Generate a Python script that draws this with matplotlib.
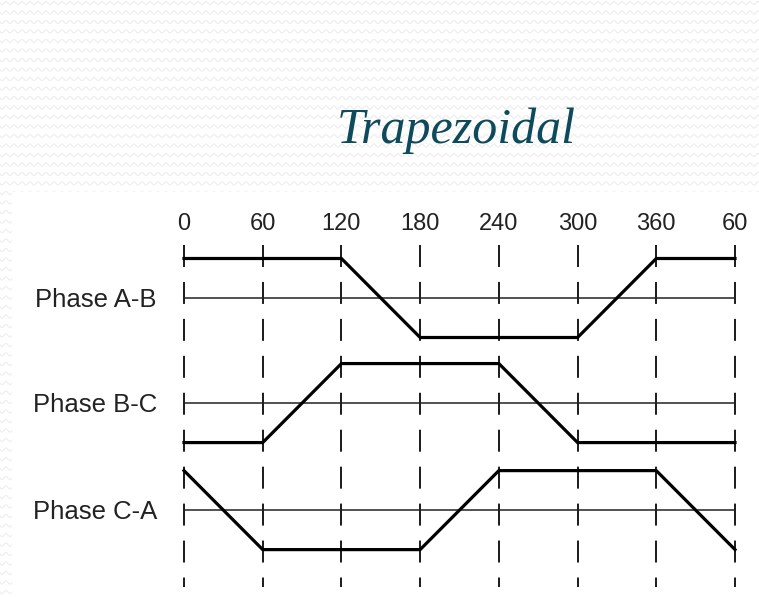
import matplotlib.pyplot as plt
import numpy as np

# Electrical angle (degrees) at each breakpoint; the last "60" is 420 deg
angles = [0, 60, 120, 180, 240, 300, 360, 420]
tick_labels = ['0', '60', '120', '180', '240', '300', '360', '60']

# Normalised line-to-line levels (+1 high, 0 zero, -1 low)
phase_ab = [1, 1, 1, -1, -1, -1, 1, 1]
phase_bc = [-1, -1, 1, 1, 1, -1, -1, -1]
phase_ca = [1, -1, -1, -1, 1, 1, 1, -1]

phase_names = ['Phase A-B', 'Phase B-C', 'Phase C-A']
phase_data = [phase_ab, phase_bc, phase_ca]
row_offsets = [0, -2.66, -5.37]

W, H = 759, 597
fig = plt.figure(figsize=(W / 100, H / 100), dpi=100)
fig.patch.set_facecolor('white')

# background: faint wavy pattern, white panel behind the chart
bg = fig.add_axes([0, 0, 1, 1], zorder=0)
bg.set_xlim(0, W)
bg.set_ylim(H, 0)
bg.axis('off')
xs = np.linspace(0, W, 800)
for y0 in np.arange(3, H, 9.5):
    bg.plot(xs, y0 + 1.6 * np.sin(xs * 2 * np.pi / 8), color='#efefef', lw=0.9)
bg.add_patch(plt.Rectangle((12, 192), W - 12, H - 192, color='white', zorder=3))

# title
fig.text(337 / W, 1 - 143 / H, 'Trapezoidal', fontsize=36, style='italic',
         family='Liberation Serif', color='#0d4a5c', ha='left', va='baseline')

# main axes: 1 deg = 1.312 px, 1 level unit = 39.5 px, zero of A-B at y=298 px
ax = fig.add_axes([0, 0, 1, 1], zorder=2)
ax.patch.set_alpha(0)
px_deg = 551 / 420
px_unit = 39.5
ax.set_xlim(-184 / px_deg, (W - 184) / px_deg)
ax.set_ylim(-(H - 298) / px_unit, 298 / px_unit)
ax.axis('off')

# dashed vertical guides and angle labels
for a, lab in zip(angles, tick_labels):
    ax.plot([a, a], [1.34, -7.32], color='#1a1a1a', lw=1.4,
            linestyle=(0, (11.3, 7.7)))
    ax.text(a, 1.72, lab, fontsize=17, family='Liberation Sans',
            color='#222222', ha='center', va='baseline')

# waveforms
for name, vals, off in zip(phase_names, phase_data, row_offsets):
    ax.plot([angles[0], angles[-1]], [off, off], color='#222222', lw=1.1)
    ax.plot(angles, np.array(vals) + off, color='black', lw=2.3,
            solid_joinstyle='miter')
    ax.text(-20.6, off - 0.06, name, fontsize=18.5, family='Liberation Sans',
            color='#222222', ha='right', va='center')

fig.savefig('out.png', dpi=100)
